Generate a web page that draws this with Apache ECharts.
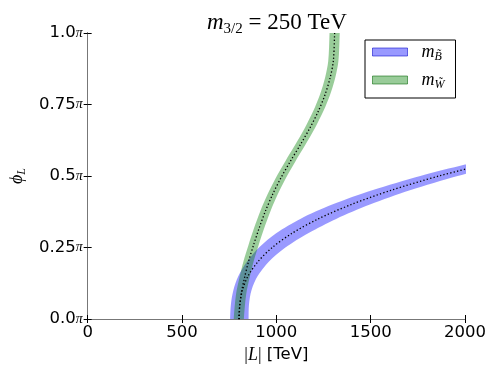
<!DOCTYPE html>
<html>
<head>
<meta charset="utf-8">
<script src="https://cdn.jsdelivr.net/npm/echarts@6/dist/echarts.min.js"></script>
<style>
  html, body { margin: 0; padding: 0; background: #fff; }
  #chart { width: 498px; height: 374px; }
</style>
</head>
<body>
<div id="chart"></div>
<script>
// bino band (phi_L in units of pi, |L| in TeV)
const phiB  = [-0.05, 0,   0.05, 0.10, 0.15, 0.20, 0.25, 0.30, 0.35, 0.40, 0.45, 0.50, 0.55, 0.60];
const midB  = [804,   804, 807,  820,  850,  902,  978,  1084, 1222, 1396, 1608, 1862, 2159, 2450];
const lowB  = [755,   755, 759,  772,  799,  844,  908,  999,  1127, 1296, 1508, 1763, 2061, 2352];
const highB = [853,   853, 855,  868,  901,  960,  1048, 1169, 1317, 1496, 1708, 1961, 2257, 2548];

// wino band
const phiW  = [-0.05, 0,   0.085, 0.143, 0.202, 0.260, 0.318, 0.377, 0.435, 0.493, 0.551, 0.609, 0.668, 0.726, 0.784, 0.843, 0.901, 1.0,  1.05];
const midW  = [801,   801, 813,   831,   853,   880,   909,   942,   980,   1024,  1074,  1127,  1178,  1222,  1258,  1285,  1302,  1309, 1310];
const lowW  = [774,   774, 786,   804,   826,   853,   882,   915,   953,   997,   1047,  1100,  1151,  1195,  1231,  1258,  1275,  1282, 1283];
const highW = [828,   828, 840,   858,   880,   907,   936,   969,   1007,  1051,  1101,  1154,  1205,  1249,  1285,  1312,  1329,  1336, 1337];

const yTicks = [0, 0.25, 0.5, 0.75, 1.0];
const yTickLabels = ['0.0', '0.25', '0.5', '0.75', '1.0'];

const blue_fill = 'rgba(0, 0, 255, 0.4)';
const green_fill = 'rgba(0, 128, 0, 0.4)';
const serif = '"Liberation Serif", "DejaVu Serif", serif';
const sans = '"DejaVu Sans", sans-serif';

function band_render(phis, lows, highs) {
    return function (params, api) {
        let pts = [];
        for (let i = 0; i < phis.length; i++) pts.push(api.coord([lows[i], phis[i]]));
        for (let i = phis.length - 1; i >= 0; i--) pts.push(api.coord([highs[i], phis[i]]));
        return {
            type: 'polygon',
            shape: { points: pts, smooth: 0.3 },
            style: { fill: api.visual('color') },
        };
    };
}

const mathRich = {
    i: { fontFamily: serif, fontStyle: 'italic', fontSize: 18, lineHeight: 22, verticalAlign: 'middle', color: '#000' },
    s: { fontFamily: serif, fontStyle: 'italic', fontSize: 12, lineHeight: 11, verticalAlign: 'bottom', color: '#000' },
};

const chart = echarts.init(document.getElementById('chart'));
chart.setOption({
    animation: false,
    title: {
        text: '{i|m}{s|3/2}{n| = 250 TeV}',
        left: 202,
        top: 4,
        textStyle: {
            fontWeight: 'normal',
            rich: {
                i: { fontFamily: serif, fontStyle: 'italic', fontSize: 23, lineHeight: 28, verticalAlign: 'middle', color: '#000' },
                s: { fontFamily: serif, fontSize: 15, lineHeight: 13, verticalAlign: 'bottom', color: '#000' },
                n: { fontFamily: serif, fontSize: 23, lineHeight: 28, verticalAlign: 'middle', color: '#000' },
            },
        },
    },
    grid: { left: 87, right: 33, top: 33, bottom: 55 },
    legend: {
        orient: 'vertical',
        left: 365,
        top: 40,
        padding: [3, 11, 7, 7],
        itemGap: 8,
        itemWidth: 35,
        itemHeight: 8,
        icon: 'rect',
        backgroundColor: '#fff',
        borderColor: '#000',
        borderWidth: 1,
        borderRadius: 0,
        data: [
            { name: 'mB', itemStyle: { borderColor: 'rgba(0,0,200,0.55)', borderWidth: 1 } },
            { name: 'mW', itemStyle: { borderColor: 'rgba(0,100,0,0.55)', borderWidth: 1 } },
        ],
        formatter: name => name === 'mB' ? '{p|}{i|m}{s|B̃}' : '{p|}{i|m}{s|W̃}',
        textStyle: {
            rich: Object.assign({ p: { width: 9 } }, mathRich),
        },
    },
    xAxis: [
        {
            type: 'value', min: 0, max: 2000, interval: 500,
            name: '{m||}{i|L}{m||} [TeV]',
            nameLocation: 'middle',
            nameGap: 25,
            nameTextStyle: {
                rich: {
                    m: { fontFamily: serif, fontSize: 18, color: '#000' },
                    i: { fontFamily: serif, fontStyle: 'italic', fontSize: 18, color: '#000' },
                },
                fontFamily: sans, fontSize: 16.5, color: '#000',
            },
            axisLine: { lineStyle: { color: '#555', width: 1 } },
            axisTick: { inside: true, length: 4, lineStyle: { color: '#000' } },
            axisLabel: { fontFamily: sans, fontSize: 16.5, color: '#000', margin: 5, formatter: v => String(v) },
            splitLine: { show: false },
        },
        {
            type: 'value', min: 0, max: 2000, interval: 500, position: 'top',
            axisLine: { lineStyle: { color: '#777', width: 1 } },
            axisTick: { inside: true, length: 4, lineStyle: { color: '#000' } },
            axisLabel: { show: false },
            splitLine: { show: false },
        },
    ],
    yAxis: [
        {
            type: 'value', min: 0, max: 1, interval: 0.25,
            name: '{i|ϕ}{s|L}',
            nameLocation: 'middle',
            nameRotate: 90,
            nameGap: 57,
            nameTextStyle: { rich: mathRich },
            axisLine: { lineStyle: { color: '#000', width: 1 } },
            axisTick: { inside: true, length: 4, lineStyle: { color: '#000' } },
            axisLabel: {
                margin: 5,
                formatter: v => '{n|' + yTickLabels[yTicks.indexOf(v)] + '}{p|π}',
                rich: {
                    n: { fontFamily: sans, fontSize: 16.5, color: '#000' },
                    p: { fontFamily: serif, fontStyle: 'italic', fontSize: 14, color: '#000' },
                },
            },
            splitLine: { show: false },
        },
        {
            type: 'value', min: 0, max: 1, interval: 0.25, position: 'right',
            axisLine: { lineStyle: { color: '#777', width: 1 } },
            axisTick: { inside: true, length: 4, lineStyle: { color: '#000' } },
            axisLabel: { show: false },
            splitLine: { show: false },
        },
    ],
    series: [
        {
            name: 'mB',
            type: 'custom',
            clip: true,
            itemStyle: { color: blue_fill },
            renderItem: band_render(phiB, lowB, highB),
            data: [[1000, 0.5]],
            z: 1,
        },
        {
            name: 'mW',
            type: 'custom',
            clip: true,
            itemStyle: { color: green_fill },
            renderItem: band_render(phiW, lowW, highW),
            data: [[1000, 0.5]],
            z: 2,
        },
        {
            name: 'mB center',
            type: 'line',
            data: midB.map((v, i) => [v, phiB[i]]),
            smooth: 0.3,
            showSymbol: false,
            clip: true,
            lineStyle: { color: '#000', width: 1.3, type: [1.3, 2.2] },
            z: 3,
        },
        {
            name: 'mW center',
            type: 'line',
            data: midW.map((v, i) => [v, phiW[i]]),
            smooth: 0.3,
            showSymbol: false,
            clip: true,
            lineStyle: { color: '#000', width: 1.3, type: [1.3, 2.2] },
            z: 3,
        },
    ],
});
</script>
</body>
</html>
